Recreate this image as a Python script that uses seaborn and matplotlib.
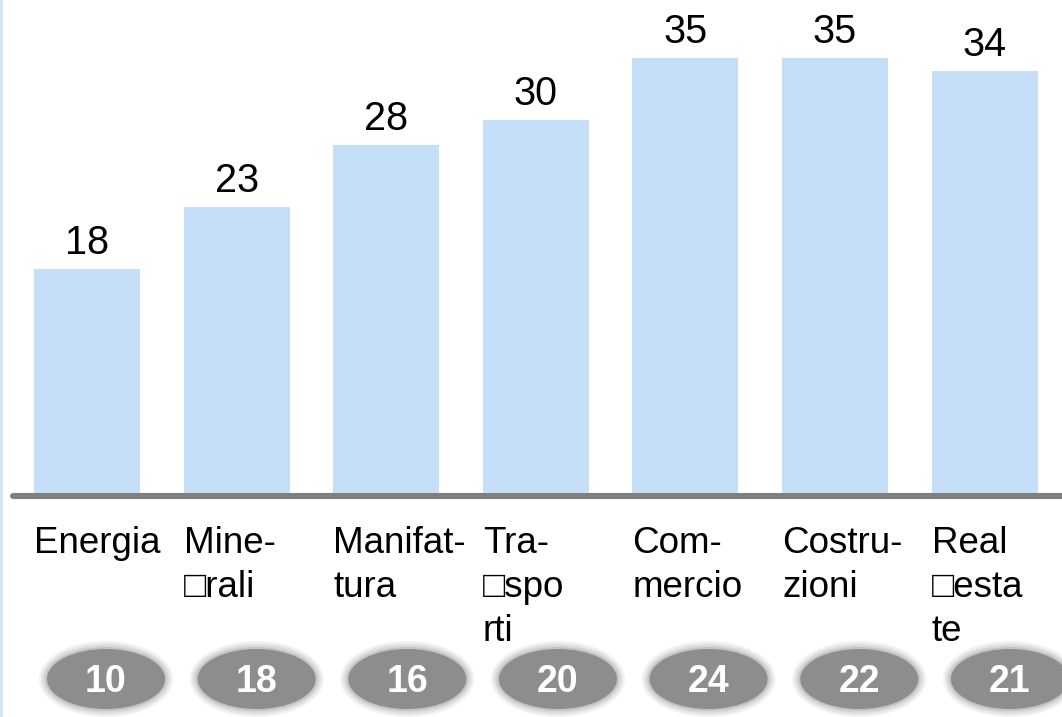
import matplotlib
matplotlib.use("Agg")
import matplotlib.pyplot as plt
from matplotlib.patches import Ellipse
from matplotlib.lines import Line2D
import seaborn as sns
import pandas as pd

# Sector data
sectors = ["Energia", "Mine-\n\u25a1rali", "Manifat-\ntura", "Tra-\n\u25a1spo\nrti",
           "Com-\nmercio", "Costru-\nzioni", "Real\n\u25a1esta\nte"]
bar_values = [18, 23, 28, 30, 35, 35, 34]
badge_values = [10, 18, 16, 20, 24, 22, 21]

sns.set_theme(style="white")
plt.rcParams["font.family"] = ["Liberation Sans", "DejaVu Sans"]

W, H, DPI = 1062, 717, 100
fig = plt.figure(figsize=(W / DPI, H / DPI), dpi=DPI)
ax = fig.add_axes([0, 0, 1, 1])

df = pd.DataFrame({"sector": sectors, "value": bar_values})
sns.barplot(data=df, x="sector", y="value", color="#c6dff8", saturation=1,
            width=0.708, linewidth=0, ax=ax, zorder=2)

# pixel-based layout of the axes
px_per_x = 149.6
px_per_y = 12.42
x0_px = 87
base_px = 493
ax.set_xlim(-x0_px / px_per_x, (W - x0_px) / px_per_x)
ax.set_ylim(-(H - base_px) / px_per_y, base_px / px_per_y)
ax.axis("off")

# baseline
ly = -3 / px_per_y
ax.plot([(13 - x0_px) / px_per_x, 7.0], [ly, ly], color="#7f7f7f", lw=4.4,
        solid_capstyle="round", zorder=1, clip_on=False)

# value labels above bars
for i, v in enumerate(bar_values):
    ax.annotate(str(v), (i, v), xytext=(0, 10.8), textcoords="offset points",
                ha="center", va="baseline", fontsize=28.5, color="#000000")

# category labels below the baseline
for i, lab in enumerate(sectors):
    ax.text(i - 0.354, -33 / px_per_y, lab, ha="left", va="top", fontsize=26.5,
            color="#000000", linespacing=1.33)

# grey badges
ew = 118 / px_per_x
eh = 60 / px_per_y
cy = -(679 - base_px) / px_per_y
halo = [(16, "#f3f3f3"), (12, "#e6e6e6"), (8, "#d8d8d8"), (4, "#c4c4c4")]
for i, b in enumerate(badge_values):
    cx = i * 1.007 + 0.127
    for pad, col in halo:
        ax.add_patch(Ellipse((cx, cy), ew + pad / px_per_x, eh + pad / px_per_y,
                             facecolor=col, edgecolor="none", zorder=3))
    ax.add_patch(Ellipse((cx, cy), ew, eh, facecolor="#8d8d8d",
                         edgecolor="none", zorder=4))
    ax.text(cx, -(692 - base_px) / px_per_y, str(b), ha="center", va="baseline",
            fontsize=27, fontweight="bold", color="white", zorder=5)

# thin blue edge on the left
fig.add_artist(Line2D([1 / W, 1 / W], [0, 1], color="#cfe4fb", lw=2,
                      transform=fig.transFigure))

fig.savefig("out.png", dpi=DPI)
